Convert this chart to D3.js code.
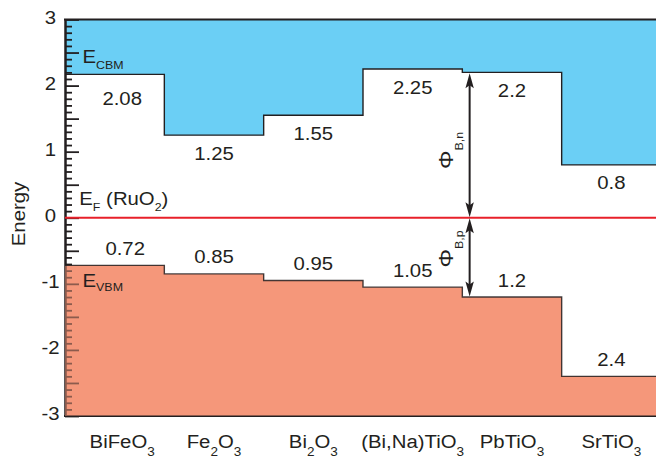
<!DOCTYPE html>
<html>
<head>
<meta charset="utf-8">
<script src="https://cdn.jsdelivr.net/npm/d3@7"></script>
<style>
  html, body { margin: 0; padding: 0; background: #fff; }
  svg { display: block; }
  text { font-family: "Liberation Sans", Arial, sans-serif; fill: #231f20; }
</style>
</head>
<body>
<script>
// ---- data ----
const categories = ["BiFeO_{3}", "Fe_{2}O_{3}", "Bi_{2}O_{3}", "(Bi,Na)TiO_{3}", "PbTiO_{3}", "SrTiO_{3}"];
const cbmValues = [2.17, 1.25, 1.55, 2.25, 2.2, 0.8];
const vbmValues = [-0.72, -0.85, -0.95, -1.05, -1.2, -2.4];
const cbmLabels = ["2.08", "1.25", "1.55", "2.25", "2.2", "0.8"];
const vbmLabels = ["0.72", "0.85", "0.95", "1.05", "1.2", "2.4"];
const yTickLabels = [3, 2, 1, 0, -1, -2, -3];
const fermiLevel = 0;
const arrowIndex = 4; // barrier arrows drawn at PbTiO3

// ---- setup ----
const W = 656, H = 459;
const STRETCH = 1.13;
const INK = "#231f20";
const BLUE = "#6bcff5";
const SALMON = "#f5977a";

const svg = d3.select("body").append("svg").attr("width", W).attr("height", H);

const x = d3.scaleLinear().domain([0, categories.length]).range([65, 661]);
const y = d3.scaleLinear().domain([-3, 3]).range([416, 19.5]);

function stepPoints(vals) {
  return vals.flatMap((v, i) => [[i, v], [i + 1, v]]);
}
const cbmPts = stepPoints(cbmValues);
const vbmPts = stepPoints(vbmValues);

// text helper with subscripts written as _{...}
function parseSegs(s) {
  const out = [];
  const re = /_\{([^}]*)\}/g;
  let last = 0, m;
  while ((m = re.exec(s)) !== null) {
    if (m.index > last) out.push({ t: s.slice(last, m.index), sub: false });
    out.push({ t: m[1], sub: true });
    last = re.lastIndex;
  }
  if (last < s.length) out.push({ t: s.slice(last), sub: false });
  return out;
}
function addText(g, px, py, str, o) {
  o = Object.assign({ size: 18, subSize: 12, subDy: 10, anchor: "start", rotate: 0 }, o || {});
  const t = g.append("text")
    .attr("transform", `translate(${px},${py}) rotate(${o.rotate}) scale(${STRETCH},1)`)
    .attr("text-anchor", o.anchor)
    .style("font-size", o.size + "px");
  let shifted = false;
  parseSegs(str).forEach(sg => {
    const ts = t.append("tspan").text(sg.t);
    if (sg.sub) {
      ts.style("font-size", o.subSize + "px");
      if (!shifted) { ts.attr("dy", o.subDy); shifted = true; }
    } else if (shifted) {
      ts.attr("dy", -o.subDy); shifted = false;
    }
  });
  return t;
}

// ---- fills ----
const blueArea = d3.area().x(d => x(d[0])).y0(y(3)).y1(d => y(d[1]));
const salmonArea = d3.area().x(d => x(d[0])).y0(y(-3)).y1(d => y(d[1]));
svg.append("path").attr("d", blueArea(cbmPts)).attr("fill", BLUE);
svg.append("path").attr("d", salmonArea(vbmPts)).attr("fill", SALMON);

// ---- axis ticks (inward) ----
const minor = d3.range(-30, 31).map(i => i / 10).filter(v => Math.round(v * 10) % 5 !== 0);
const major = d3.range(-6, 7).map(i => i / 2);
const axG = svg.append("g").attr("transform", `translate(${x(0)},0)`);
axG.append("g").call(d3.axisRight(y).tickValues(minor).tickSize(7).tickSizeOuter(0).tickFormat(""));
axG.append("g").call(d3.axisRight(y).tickValues(major).tickSize(14).tickSizeOuter(0).tickFormat(""));
axG.selectAll("line").attr("stroke", INK).attr("stroke-width", 1.8);
axG.selectAll(".domain").attr("stroke", INK).attr("stroke-width", 2);

// top & bottom frame
svg.append("line").attr("x1", x(0) - 1).attr("x2", W).attr("y1", y(3)).attr("y2", y(3))
  .attr("stroke", INK).attr("stroke-width", 2);
svg.append("line").attr("x1", x(0) - 1).attr("x2", W).attr("y1", y(-3)).attr("y2", y(-3))
  .attr("stroke", INK).attr("stroke-width", 2);

// translucent salmon over ticks (as in the reference)
svg.append("path").attr("d", salmonArea(vbmPts)).attr("fill", SALMON).attr("fill-opacity", 0.5);

// ---- step outlines ----
const stepLine = d3.line().x(d => x(d[0])).y(d => y(d[1]));
svg.append("path").attr("d", stepLine(cbmPts)).attr("fill", "none").attr("stroke", INK).attr("stroke-width", 1.4);
svg.append("path").attr("d", stepLine(vbmPts)).attr("fill", "none").attr("stroke", INK).attr("stroke-width", 1.4).attr("stroke-opacity", 0.85);

// ---- Fermi level ----
svg.append("line").attr("x1", x(0)).attr("x2", W).attr("y1", y(fermiLevel)).attr("y2", y(fermiLevel))
  .attr("stroke", "#e8202a").attr("stroke-width", 2);

// ---- barrier arrows ----
const ax = x(arrowIndex) + 7.3;
function head(tipY, dir) { // dir: -1 pointing up, +1 pointing down
  const L = 15, hw = 4.2, notch = 12;
  return `M${ax},${tipY} L${ax - hw},${tipY - dir * L} L${ax},${tipY - dir * notch} L${ax + hw},${tipY - dir * L} Z`;
}
const arrG = svg.append("g");
const yC = y(cbmValues[arrowIndex]), y0 = y(fermiLevel), yV = y(vbmValues[arrowIndex]);
arrG.append("line").attr("x1", ax).attr("x2", ax).attr("y1", yC + 8).attr("y2", y0 - 8).attr("stroke", INK).attr("stroke-width", 2);
arrG.append("line").attr("x1", ax).attr("x2", ax).attr("y1", y0 + 8).attr("y2", yV - 8).attr("stroke", INK).attr("stroke-width", 2);
arrG.append("path").attr("d", head(yC + 1, -1)).attr("fill", INK);
arrG.append("path").attr("d", head(y0 - 0.5, 1)).attr("fill", INK);
arrG.append("path").attr("d", head(y0 + 0.5, -1)).attr("fill", INK);
arrG.append("path").attr("d", head(yV - 0.5, 1)).attr("fill", INK);

// ---- texts ----
const tg = svg.append("g");
const center = i => (x(i) + x(i + 1)) / 2 + (i === 0 ? 7.5 : 0);

cbmLabels.forEach((l, i) => {
  addText(tg, center(i), y(parseFloat(l)) + 24.5, l, { anchor: "middle", size: 18 });
});
vbmLabels.forEach((l, i) => {
  addText(tg, center(i) + (i === 0 ? 3 : 0), y(vbmValues[i]) - 10.5, l, { anchor: "middle", size: 18 });
});
categories.forEach((c, i) => {
  addText(tg, center(i), 447.5, c, { anchor: "middle", size: 18, subSize: 12, subDy: 8.5 });
});

// y tick labels
yTickLabels.forEach(v => {
  addText(tg, v < 0 ? 59.5 : 56, y(v) + 4, v < 0 ? "-" + Math.abs(v) : String(v), { anchor: "end", size: 18 });
});

// axis title
addText(tg, 25, 214, "Energy", { anchor: "middle", size: 18, rotate: -90 });

// band labels
addText(tg, 82.5, 62.7, "E_{CBM}", { size: 18, subSize: 11, subDy: 6.5 });
addText(tg, 82.5, 286.7, "E_{VBM}", { size: 18, subSize: 11, subDy: 4 });
addText(tg, 79.3, 205, "E_{F} (RuO_{2})", { size: 18, subSize: 11, subDy: 6 });

// barrier labels
addText(tg, 453, 169, "Φ_{B,n}", { size: 20.5, subSize: 11, subDy: 9.5, rotate: -90 });
addText(tg, 453, 267.5, "Φ_{B,p}", { size: 20.5, subSize: 11, subDy: 9.5, rotate: -90 });
</script>
</body>
</html>
